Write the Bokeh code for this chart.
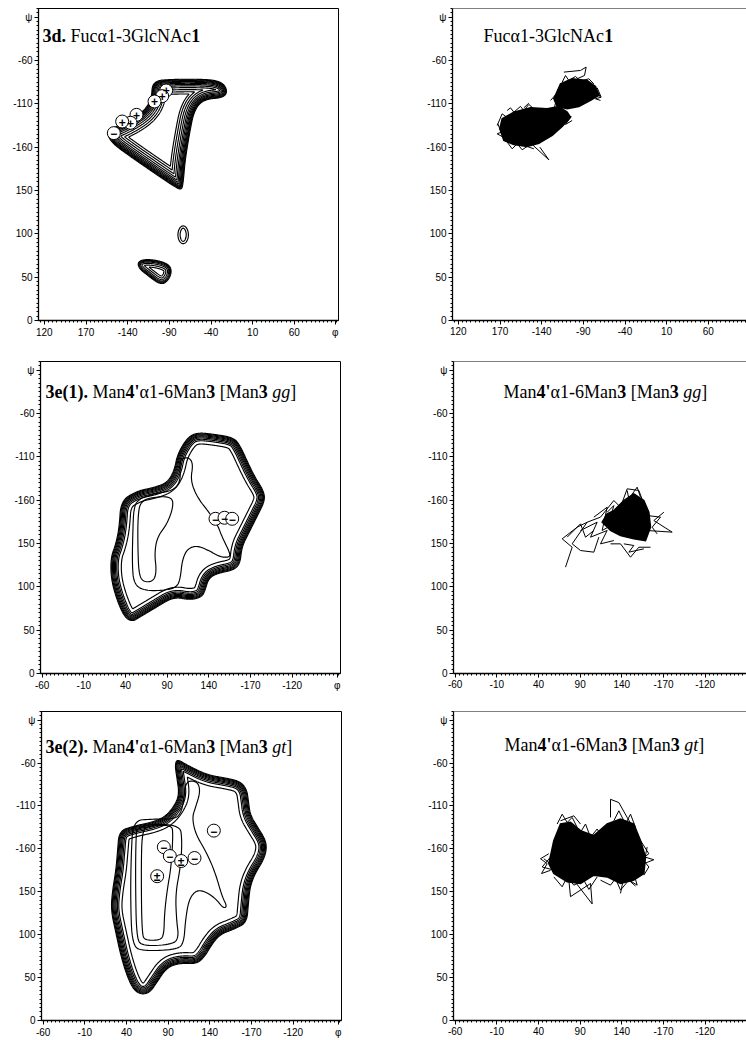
import numpy as np
from contourpy import contour_generator
from bokeh.plotting import figure
from bokeh.layouts import column, row
from bokeh.models import FixedTicker, Range1d, Span
from bokeh.core.properties import value
from bokeh.embed import file_html
from bokeh.resources import INLINE

# ---------------- axis ticks / labels ----------------
phi_ticks_a = [120, 170, 220, 270, 320, 370, 420]
phi_labels_a = ["120", "170", "-140", "-90", "-40", "10", "60"]
phi_ticks_b = [-60, -10, 40, 90, 140, 190, 240]
phi_labels_b = ["-60", "-10", "40", "90", "140", "-170", "-120"]
psi_ticks = [0, 50, 100, 150, 200, 250, 300]
psi_labels = ["0", "50", "100", "150", "-160", "-110", "-60"]
phi_symbol_a = 469
phi_symbol_b = 294
psi_symbol = 350

# ---------------- titles (text, style) ----------------
title_3d = [("3d.", "bold"), (" Fucα1-3GlcNAc", "normal"), ("1", "bold")]
title_3d_md = [("Fucα1-3GlcNAc", "normal"), ("1", "bold")]
title_e1 = [("3e(1).", "bold"), (" Man", "normal"), ("4'", "bold"), ("α1-6Man", "normal"), ("3", "bold"),
            (" [Man", "normal"), ("3", "bold"), (" ", "normal"), ("gg", "italic"), ("]", "normal")]
title_e1_md = [("Man", "normal"), ("4'", "bold"), ("α1-6Man", "normal"), ("3", "bold"),
               (" [Man", "normal"), ("3", "bold"), (" ", "normal"), ("gg", "italic"), ("]", "normal")]
title_e2 = [("3e(2).", "bold"), (" Man", "normal"), ("4'", "bold"), ("α1-6Man", "normal"), ("3", "bold"),
            (" [Man", "normal"), ("3", "bold"), (" ", "normal"), ("gt", "italic"), ("]", "normal")]
title_e2_md = [("Man", "normal"), ("4'", "bold"), ("α1-6Man", "normal"), ("3", "bold"),
               (" [Man", "normal"), ("3", "bold"), (" ", "normal"), ("gt", "italic"), ("]", "normal")]

# ---------------- 3d: energy map (phi, psi in degrees) ----------------
d_out_phi = [249.4, 275.4, 307.4, 325.4, 336.2, 340.2, 334.6, 311.4, 300.2, 294.6, 289.4, 287.4, 285.4,
             277.4, 255.4, 223.4, 201.4, 194.6, 199.4, 221.4, 239.4, 248.2]
d_out_psi = [277, 278.9, 278.9, 277.7, 273.1, 263.5, 256.6, 254.7, 242.3, 215.4, 184.6, 161.6, 150,
             153.1, 167.3, 188.5, 203.9, 215.4, 221.2, 230.8, 242.3, 255.8]
d_blob_phi = [231.4, 239.4, 255.4, 269.4, 273.4, 270.6, 263.4, 255.4, 243.4, 233.4]
d_blob_psi = [67.3, 71.2, 70, 65.4, 57.7, 48.1, 41.5, 43.1, 51.9, 59.6]
d_ell_phi = [293.8, 291.7, 286.6, 281.5, 279.4, 281.5, 286.6, 291.7]
d_ell_psi = [98.9, 107, 110.4, 107, 98.9, 90.8, 87.4, 90.8]
d_out_levels = [0.5, 1.3, 2.1, 3.0, 4.0, 5.2, 6.6, 8.2, 10.2, 12.5, 15.0, 17.5]
d_blob_levels = [0.5, 1.3, 2.2, 3.3, 4.8, 6.8, 9.0]
d_ell_levels = [0.4, 3.0]
d_mk_phi = [266.2, 261.4, 252.2, 230.6, 223.4, 213.4, 203.4]
d_mk_psi = [265.4, 258.9, 252.7, 237.3, 228.1, 229.6, 216.2]
d_mk_sign = ["+", "+", "+", "+", "+", "+", "−"]

# ---------------- 3d: MD trajectory ----------------
d_md_blob1_phi = [169.8, 172.6, 186.6, 206.6, 226.6, 240.6, 250.6, 254.6, 244.6, 232.6, 216.6, 202.6, 186.6, 174.6]
d_md_blob1_psi = [221.2, 232.7, 240.4, 245.4, 244.3, 247, 240.4, 234.7, 223.9, 213.5, 204.6, 200.8, 203.1, 207.7]
d_md_blob2_phi = [234.6, 242.6, 256.6, 274.6, 284.6, 288.6, 278.6, 264.6, 250.6, 238.6]
d_md_blob2_psi = [255.8, 273.1, 278.9, 277, 270, 259.7, 253.9, 247, 244.3, 247]
d_md_spk_phi = [[246.6, 266.6, 273.4, 271.4, 262.6], [208.6, 228.6, 217.8], [166.6, 172.6, 177.8],
                [286.6, 290.6], [198.6, 204.6], [230.6, 236.6, 242.6],
                [178.6, 182.6, 186.6, 194.6, 198.6, 204.6, 210.6],
                [178.6, 184.6, 190.6, 196.6, 202.6, 210.6],
                [167.4, 171.4, 166.6, 173.8],
                [244.6, 255.4, 248.6, 256.6],
                [244.6, 248.6, 252.6, 260.6, 266.6, 276.6, 282.6],
                [286.6, 291.4, 284.6, 290.6],
                [234.6, 238.6, 242.6]]
d_md_spk_psi = [[286.6, 288.5, 292.4, 282.7, 278.9], [203.1, 185.4, 200], [225, 238.5, 234.7],
                [265.4, 257], [245.4, 250.8], [253.9, 260.4, 257.7],
                [242.3, 245.4, 240.4, 247, 242.3, 249.3, 244.3],
                [205.8, 198.1, 203.9, 197, 200.8, 198.1],
                [227, 217.3, 215.4, 211.6],
                [234.7, 235.4, 226.2, 230.8],
                [275, 282.7, 277, 281.6, 276.2, 278.9, 273.1],
                [268.5, 257.7, 255.8, 253.9],
                [242.3, 259.7, 250]]

# ---------------- 3e(1): energy map ----------------
e1_out_phi = [126, 146, 170, 178, 188, 196, 206, 208, 198, 188, 180, 178, 170, 150, 140, 136, 132, 118, 98, 78,
              58, 48, 38, 28, 22, 22, 28, 32, 34, 54, 74, 90, 98, 102, 114]
e1_out_psi = [278.5, 276.6, 272.7, 263.1, 242, 226.5, 211.2, 199.6, 180.4, 161.2, 145.8, 126.6, 118.9, 115,
              109.3, 95.8, 88, 84.2, 88, 76.5, 65, 59.2, 65, 88, 111.1, 134.2, 149.7, 168.8, 199.6, 211.2,
              215, 220.8, 234.3, 253.5, 272.7]
e1_out_levels = [0.5, 1.4, 2.4, 3.5, 4.7, 6.0, 7.5, 9.2, 13.0]
e1_s_phi = [106, 116, 121.2, 118, 126, 140, 150, 156, 164, 166, 154, 140, 126, 114, 108, 106, 102, 86, 62,
            50, 48, 48.8, 50, 56, 74, 98, 106, 105.2]
e1_s_psi = [247.7, 249.6, 241.9, 222.7, 203.5, 186.1, 172.7, 157.3, 141.9, 134.2, 134.2, 141.9, 147.7, 143.8,
            130.4, 111.1, 99.6, 95.7, 95.7, 103.4, 126.5, 165, 191.9, 201.5, 207.3, 211.2, 222.7, 238.1]
e1_l_phi = [58, 78, 96, 97.2, 90, 78, 74.8, 77.2, 74, 61.2, 56, 54.8, 54.8]
e1_l_psi = [199.6, 204.2, 203.5, 191.9, 172.7, 157.3, 138.1, 118.8, 106.5, 105.4, 115, 145.8, 180.4]
e1_mk_phi = [148, 158.8, 168]
e1_mk_psi = [178.5, 179.7, 178.5]
e1_mk_sign = ["−", "−", "−"]

# ---------------- 3e(1): MD trajectory ----------------
e1_md_core_phi = [130.4, 142.4, 154.4, 166.4, 172.4, 174.4, 168.4, 154.4, 138.4, 126.4, 116.4, 122.4]
e1_md_core_psi = [188, 199.6, 207.3, 199.6, 186.1, 168.8, 153.4, 155.4, 159.2, 165, 174.6, 184.2]
e1_md_spk_phi = [[72.4, 80.4, 68.4, 86.4, 98.4, 80.4, 90.4, 106.4, 112.4],
                 [98.4, 114.4, 130.4, 138.4, 146.4, 160.4, 166.4],
                 [126.4, 138.4, 150.4, 160.4, 174.4],
                 [170.4, 200.4, 178.4, 190.4],
                 [106.4, 122.4, 116.4, 130.4],
                 [90.4, 110.4, 102.4, 122.4, 114.4, 130.4],
                 [74.4, 90.4, 96.4, 106.4],
                 [146.4, 148.4, 158.4, 162.4],
                 [170.4, 186.4, 176.4, 182.4],
                 [142.4, 154.4, 148.4, 166.4],
                 [122.4, 130.4, 126.4, 138.4]]
e1_md_spk_psi = [[122.7, 145.7, 155.4, 168.8, 174.6, 149.6, 141.9, 140, 157.3],
                 [174.6, 180.4, 199.6, 191.9, 213.1, 211.2, 195.8],
                 [149.6, 149.6, 134.2, 145.7, 145.7],
                 [165, 163.1, 176.5, 186.1],
                 [180.4, 191.9, 165, 172.7],
                 [165, 174.6, 157.3, 165, 149.6, 153.4],
                 [157.3, 172.7, 157.3, 165],
                 [211.2, 201.5, 215, 203.5],
                 [182.3, 180.4, 168.8, 161.1],
                 [149.6, 147.7, 140, 143.8],
                 [186.1, 193.8, 180.4, 186.1]]

# ---------------- 3e(2): energy map ----------------
e2_out_phi = [100.8, 112.8, 136.8, 160.8, 176.8, 184.8, 186.8, 188.8, 196.8, 206.8, 208.8, 204.8, 194.8, 188.8,
              186.8, 184.8, 168.8, 152.8, 142.8, 134.8, 124.8, 104.8, 88.8, 76.8, 68.8, 58.8, 48.8, 40.8, 32.8,
              26.8, 20.8, 22.8, 26.8, 28.8, 30.8, 48.8, 72.8, 86.8, 96.8, 102.8, 100, 97.6]
e2_out_psi = [305.1, 298.1, 286.6, 282.7, 278.9, 269.3, 255.8, 240.4, 227, 211.6, 200, 186.6, 171.2, 155.8,
              136.6, 113.5, 105.8, 100, 88.5, 75, 65.4, 66.5, 61.5, 44.2, 32.7, 29.6, 34.6, 50, 75, 102, 128.9,
              152, 175, 198.1, 221.2, 227, 232, 238.5, 250, 263.5, 282.7, 298.1]
e2_out_levels = [0.5, 1.4, 2.4, 3.5, 4.7, 6.0, 7.5, 9.2, 13.0]
e2_s_phi = [110.8, 124.8, 128.8, 122.8, 118.8, 122.8, 136.8, 146.8, 154.8, 160.8, 156, 146.8, 132.8, 122.8,
            114.8, 110.8, 108.8, 100.8, 60.8, 46.8, 44.8, 45.6, 48, 68.8, 96.8, 104.8, 108.8]
e2_s_psi = [278.9, 278.9, 267.4, 248.1, 236.6, 217.4, 194.3, 171.2, 144.3, 132.7, 130.8, 142.3, 151.2, 151.2,
            140.4, 117.3, 90.4, 82.7, 80.8, 86.5, 140.4, 194.3, 232.7, 234.7, 234.7, 240.4, 255.8]
e2_m_phi = [52.8, 104, 106.8, 104.8, 98.8, 100, 102.8, 94.8, 58.8, 52, 50.8, 51.2]
e2_m_psi = [228.1, 228.9, 209.7, 178.9, 148.1, 117.3, 96.2, 88.5, 86.6, 96.2, 159.7, 209.7]
e2_l_phi = [58.8, 66.8, 93.6, 96, 93.6, 88.8, 85.6, 84.8, 78.8, 62.8, 58.4, 57.6]
e2_l_psi = [221.2, 227, 227.7, 219.3, 178.9, 152, 125, 98.1, 93.5, 93.5, 100, 178.9]
e2_mk_phi = [84.8, 92, 121.6, 144.8, 105.6, 76.8]
e2_mk_psi = [202, 191.6, 189.3, 221.2, 185.8, 168.1]
e2_mk_sign = ["−", "−", "−", "−", "±", "±"]

# ---------------- 3e(2): MD trajectory ----------------
e2_md_core_phi = [58.4, 66.4, 78.4, 90.4, 106.4, 122.4, 138.4, 154.4, 162.4, 168.4, 166.4, 154.4, 138.4, 122.4,
                  106.4, 90.4, 74.4, 58.4, 52.4]
e2_md_core_psi = [209.7, 228.9, 230.8, 221.2, 215.4, 228.9, 234.7, 228.9, 209.7, 190.4, 171.2, 163.5, 159.6,
                  167.3, 169.3, 159.6, 161.6, 171.2, 182.7]
e2_md_spk_phi = [[126.4, 126.4, 136.4, 146.4, 158.4], [54.4, 44.4, 66.4, 46.4], [82.4, 104.4, 102.4, 78.4, 76.4],
                 [154.4, 178.4, 166.4, 170.4], [138.4, 142.4, 158.4, 154.4], [66.4, 82.4, 90.4],
                 [62.4, 68.4, 74.4, 80.4, 86.4],
                 [90.4, 96.4, 102.4, 110.4, 116.4],
                 [58.4, 68.4, 74.4, 82.4, 94.4, 100.4, 110.4],
                 [114.4, 126.4, 132.4, 138.4, 148.4, 156.4],
                 [162.4, 172.4, 164.4, 172.4, 166.4],
                 [130.4, 136.4, 144.4, 150.4, 156.4],
                 [52.4, 42.4, 50.4, 43.6, 54.4]]
e2_md_spk_psi = [[236.6, 257.7, 253.9, 236.6, 217.4], [190.4, 178.9, 173.1, 188.5], [163.5, 135.8, 159.6, 144.3, 163.5],
                 [194.3, 187.3, 182.7, 202], [148.1, 167.3, 157.7, 171.2], [232.7, 238.5, 228.9],
                 [228.9, 240.4, 230.8, 236.6, 225],
                 [219.3, 228.9, 213.5, 223.1, 213.5],
                 [167.3, 155.8, 167.3, 157.7, 163.5, 152.7, 167.3],
                 [163.5, 157.7, 165.4, 151.9, 163.5, 156.6],
                 [209.7, 194.3, 188.5, 178.9, 169.3],
                 [232.7, 244.3, 228.9, 240.4, 225],
                 [194.3, 188.5, 182.7, 171.2, 175]]

# ======================================================================
DEG_PER_PX = 1.2
FONT_AX = "Liberation Sans"
FONT_T = "Liberation Serif"

W_NORMAL = {' ': 250, '.': 250, '-': 333, '(': 333, ')': 333, '[': 333, ']': 333, "'": 180, 'F': 556, 'u': 500,
            'c': 444, 'α': 540, 'G': 722, 'l': 278, 'N': 722, 'A': 722, 'M': 889, 'a': 444, 'n': 500, 'g': 500,
            't': 278, 'd': 500, 'e': 444}
W_BOLD = {'d': 556, "'": 278}


def text_width(txt, style, size):
    w = 0
    for ch in txt:
        if ch.isdigit():
            w += 500
        elif "bold" in style and ch in W_BOLD:
            w += W_BOLD[ch]
        else:
            w += W_NORMAL.get(ch, 500)
    return w * size / 1000.0


def chaikin(xs, ys, n):
    pts = np.column_stack([np.asarray(xs, float), np.asarray(ys, float)])
    for _ in range(n):
        nxt = np.roll(pts, -1, axis=0)
        out = np.empty((2 * len(pts), 2))
        out[0::2] = 0.75 * pts + 0.25 * nxt
        out[1::2] = 0.25 * pts + 0.75 * nxt
        pts = out
    return pts


def signed_dist(poly, X, Y):
    inside = np.zeros(X.shape, bool)
    dmin = np.full(X.shape, np.inf)
    n = len(poly)
    for i in range(n):
        x1, y1 = poly[i]
        x2, y2 = poly[(i + 1) % n]
        dx, dy = x2 - x1, y2 - y1
        cond = (y1 > Y) != (y2 > Y)
        dys = dy if dy != 0 else 1e-9
        xint = x1 + dx * (Y - y1) / dys
        inside ^= cond & (X < xint)
        L2 = dx * dx + dy * dy
        if L2 == 0:
            continue
        t = np.clip(((X - x1) * dx + (Y - y1) * dy) / L2, 0, 1)
        d = np.hypot(X - x1 - t * dx, Y - y1 - t * dy)
        np.minimum(dmin, d, out=dmin)
    return np.where(inside, dmin, -dmin)


def offset_contours(phi, psi, levels, res=0.6, smooth=3):
    poly = chaikin(phi, psi, smooth)
    gx = np.arange(poly[:, 0].min() - 3, poly[:, 0].max() + 3, res)
    gy = np.arange(poly[:, 1].min() - 3, poly[:, 1].max() + 3, res)
    X, Y = np.meshgrid(gx, gy)
    Z = signed_dist(poly, X, Y)
    gen = contour_generator(gx, gy, Z)
    xs, ys = [], []
    for lev in levels:
        for seg in gen.lines(lev):
            xs.append(seg[:, 0].tolist())
            ys.append(seg[:, 1].tolist())
    return xs, ys


def closed_curve(phi, psi, smooth=3):
    poly = chaikin(phi, psi, smooth)
    poly = np.vstack([poly, poly[:1]])
    return poly[:, 0].tolist(), poly[:, 1].tolist()


def make_fig(w, h, bl, br, bt, bb, x0, ticks, labels, phi_sym, outline=True):
    frame_w = w - bl - br
    x1 = x0 + frame_w * DEG_PER_PX
    p = figure(width=w, height=h, x_range=Range1d(x0, x1), y_range=Range1d(0, 360),
               output_backend="svg", toolbar_location=None,
               min_border_left=bl, min_border_right=br, min_border_top=bt, min_border_bottom=bb,
               background_fill_color="white", border_fill_color="white")
    p.xgrid.visible = False
    p.ygrid.visible = False
    p.outline_line_color = "black" if outline else None
    p.outline_line_width = 1
    xt = list(ticks) + [phi_sym]
    xminor = [v for v in np.arange(ticks[0] - 50, x1 + 1, 5.0) if x0 <= v <= x1]
    p.xaxis.ticker = FixedTicker(ticks=xt, minor_ticks=xminor)
    ov = {t: l for t, l in zip(ticks, labels)}
    ov[phi_sym] = "φ"
    p.xaxis.major_label_overrides = ov
    yt = list(psi_ticks) + [psi_symbol]
    p.yaxis.ticker = FixedTicker(ticks=yt, minor_ticks=[float(v) for v in np.arange(0, 361, 5)])
    yov = {t: l for t, l in zip(psi_ticks, psi_labels)}
    yov[psi_symbol] = "ψ"
    p.yaxis.major_label_overrides = yov
    for ax in (p.xaxis, p.yaxis):
        ax.axis_line_width = 1.3
        ax.axis_line_color = "black"
        ax.major_tick_out = 4
        ax.major_tick_in = 0
        ax.minor_tick_out = 2
        ax.minor_tick_in = 0
        ax.major_tick_line_color = "black"
        ax.minor_tick_line_color = "black"
        ax.major_label_text_font = FONT_AX
        ax.major_label_text_font_size = "10px"
        ax.major_label_text_color = "black"
        ax.major_label_standoff = 2
    if not outline:
        p.add_layout(Span(location=360, dimension="width", line_color="black", line_width=1.2))
    return p


def add_title(p, segs, x_px, y_px, size=18):
    off = x_px
    x0 = p.x_range.start
    space_w = W_NORMAL[' '] * size / 1000.0
    for txt, style in segs:
        core = txt.strip(' ')
        lead = len(txt) - len(txt.lstrip(' '))
        if core:
            p.text(x=[x0], y=[360], text=[core], x_offset=off + lead * space_w, y_offset=y_px,
                   text_font=value(FONT_T), text_font_size=value(f"{size}px"),
                   text_font_style=style, text_baseline="alphabetic", text_align="left",
                   text_color="black")
        off += text_width(txt, style, size)


def draw_map(p, shapes, inner, mk_phi, mk_psi, mk_sign):
    xs, ys = [], []
    for phi, psi, levels in shapes:
        a, b = offset_contours(phi, psi, levels)
        xs += a
        ys += b
    for phi, psi in inner:
        a, b = closed_curve(phi, psi)
        xs.append(a)
        ys.append(b)
    p.multi_line(xs, ys, line_color="black", line_width=1.15)
    p.scatter(mk_phi, mk_psi, marker="circle", size=13, fill_color="white", line_color="black", line_width=1)
    p.text(x=mk_phi, y=mk_psi, text=mk_sign, text_align="center", text_baseline="middle",
           text_font=value(FONT_AX), text_font_size=value("12px"), text_font_style="bold",
           text_color="black", y_offset=0.5)


def draw_md(p, blobs, spk_phi, spk_psi):
    bx = [list(b[0]) for b in blobs]
    by = [list(b[1]) for b in blobs]
    p.patches(bx, by, fill_color="black", line_color="black", line_width=1.5, line_join="miter")
    p.multi_line(spk_phi, spk_psi, line_color="black", line_width=1.0)


# ---------------- row 1 ----------------
p1 = make_fig(395, 353, 38, 57, 8, 33, 113, phi_ticks_a, phi_labels_a, phi_symbol_a)
draw_map(p1, [(d_out_phi, d_out_psi, d_out_levels), (d_blob_phi, d_blob_psi, d_blob_levels),
              (d_ell_phi, d_ell_psi, d_ell_levels)], [], d_mk_phi, d_mk_psi, d_mk_sign)
add_title(p1, title_3d, 4, 27)

p2 = make_fig(351, 353, 57, 0, 8, 33, 113, phi_ticks_a, phi_labels_a, phi_symbol_a, outline=False)
draw_md(p2, [(d_md_blob1_phi, d_md_blob1_psi), (d_md_blob2_phi, d_md_blob2_psi)], d_md_spk_phi, d_md_spk_psi)
add_title(p2, title_3d_md, 31, 27)

# ---------------- row 2 ----------------
p3 = make_fig(395, 352, 40, 55, 8, 32, -62, phi_ticks_b, phi_labels_b, phi_symbol_b)
draw_map(p3, [(e1_out_phi, e1_out_psi, e1_out_levels)], [(e1_s_phi, e1_s_psi), (e1_l_phi, e1_l_psi)],
         e1_mk_phi, e1_mk_psi, e1_mk_sign)
add_title(p3, title_e1, 5, 30)

p4 = make_fig(351, 352, 58, 0, 8, 32, -62, phi_ticks_b, phi_labels_b, phi_symbol_b, outline=False)
draw_md(p4, [(e1_md_core_phi, e1_md_core_psi)], e1_md_spk_phi, e1_md_spk_psi)
add_title(p4, title_e1_md, 50, 30)

# ---------------- row 3 ----------------
p5 = make_fig(395, 335, 41, 54, 6, 17, -62, phi_ticks_b, phi_labels_b, phi_symbol_b)
draw_map(p5, [(e2_out_phi, e2_out_psi, e2_out_levels)],
         [(e2_s_phi, e2_s_psi), (e2_m_phi, e2_m_psi), (e2_l_phi, e2_l_psi)],
         e2_mk_phi, e2_mk_psi, e2_mk_sign)
add_title(p5, title_e2, 4, 35)

p6 = make_fig(351, 335, 58, 0, 6, 17, -62, phi_ticks_b, phi_labels_b, phi_symbol_b, outline=False)
draw_md(p6, [(e2_md_core_phi, e2_md_core_psi)], e2_md_spk_phi, e2_md_spk_psi)
add_title(p6, title_e2_md, 51, 33)

layout = column(row(p1, p2), row(p3, p4), row(p5, p6))
open("out.html", "w").write(file_html(layout, INLINE))
